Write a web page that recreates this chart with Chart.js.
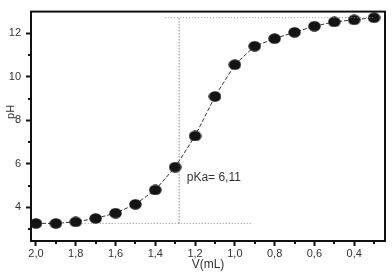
<!DOCTYPE html>
<html><head><meta charset="utf-8">
<script src="https://cdn.jsdelivr.net/npm/chart.js@4.4.1/dist/chart.umd.min.js"></script>
<style>html,body{margin:0;padding:0;background:#fff}canvas{display:block}</style>
</head><body>
<canvas id="c" width="392" height="276"></canvas>
<script>
// ---- data ----
const volume = [2.0, 1.9, 1.8, 1.7, 1.6, 1.5, 1.4, 1.3, 1.2, 1.1, 1.0, 0.9, 0.8, 0.7, 0.6, 0.5, 0.4, 0.3];
const pH     = [3.26, 3.26, 3.33, 3.49, 3.73, 4.14, 4.80, 5.85, 7.28, 9.10, 10.56, 11.41, 11.76, 12.05, 12.33, 12.53, 12.62, 12.72];
const pkaLineX  = [1.28, 1.28];
const pkaLineY  = [3.26, 12.72];
const baseLineX = [1.77, 0.92];
const baseLineY = [3.26, 3.26];
const topLineX  = [1.35, 0.30];
const topLineY  = [12.72, 12.72];
const pkaText = 'pKa= 6,11';
const pkaTextAt = [1.242, 5.34];
const xTicks = [2.0, 1.8, 1.6, 1.4, 1.2, 1.0, 0.8, 0.6, 0.4];
const xMinorTicks = [1.9, 1.7, 1.5, 1.3, 1.1, 0.9, 0.7, 0.5, 0.3];
const yTicks = [4, 6, 8, 10, 12];
const yMinorTicks = [3, 5, 7, 9, 11];
const xTitle = 'V(mL)';
const yTitle = 'pH';

const FONT = 'Liberation Sans, Arial, sans-serif';
const pts = (xs, ys) => xs.map((x, i) => ({x, y: ys[i]}));

// elliptical marker
const dot = document.createElement('canvas');
dot.width = 13; dot.height = 11;
(function(){ const g = dot.getContext('2d'); g.fillStyle = '#141414';
  g.beginPath(); g.ellipse(6.5, 5.5, 6.2, 5.3, 0, 0, Math.PI*2); g.fill(); })();

const decor = {
  id: 'decor',
  beforeDatasetsDraw(chart) {
    const {ctx, chartArea: a, scales: {x, y}} = chart;
    ctx.save();
    ctx.strokeStyle = '#111';
    ctx.lineWidth = 2;
    ctx.strokeRect(a.left, a.top, a.right - a.left, a.bottom - a.top);
    ctx.lineWidth = 2;
    ctx.beginPath();
    xMinorTicks.forEach(v => { const px = Math.round(x.getPixelForValue(v)); ctx.moveTo(px, a.bottom); ctx.lineTo(px, a.bottom + 3); });
    yMinorTicks.forEach(v => { const py = Math.round(y.getPixelForValue(v)); ctx.moveTo(a.left, py); ctx.lineTo(a.left - 3, py); });
    ctx.stroke();
    // y title
    ctx.fillStyle = '#333';
    ctx.font = '11px ' + FONT;
    ctx.textAlign = 'center';
    ctx.textBaseline = 'middle';
    ctx.translate(10.5, a.top + 0.437 * (a.bottom - a.top));
    ctx.rotate(-Math.PI / 2);
    ctx.fillText(yTitle, 0, 0);
    ctx.restore();
  },
  afterDatasetsDraw(chart) {
    const {ctx, scales: {x, y}} = chart;
    ctx.save();
    ctx.fillStyle = '#333';
    ctx.font = '12px ' + FONT;
    ctx.textAlign = 'left';
    ctx.textBaseline = 'middle';
    ctx.fillText(pkaText, x.getPixelForValue(pkaTextAt[0]), y.getPixelForValue(pkaTextAt[1]));
    ctx.restore();
  }
};

const refStyle = {showLine: true, pointRadius: 0, borderWidth: 1, borderDash: [1, 2], fill: false};

new Chart(document.getElementById('c'), {
  type: 'scatter',
  data: {
    datasets: [
      Object.assign({data: pts(pkaLineX, pkaLineY), borderColor: '#555'}, refStyle),
      Object.assign({data: pts(baseLineX, baseLineY), borderColor: '#888'}, refStyle),
      Object.assign({data: pts(topLineX, topLineY), borderColor: '#888'}, refStyle),
      {
        data: pts(volume, pH),
        showLine: true,
        borderColor: '#333',
        borderWidth: 1,
        borderDash: [4, 2],
        pointStyle: dot,
        pointRadius: 6,
        tension: 0
      }
    ]
  },
  options: {
    responsive: false,
    animation: false,
    events: [],
    layout: {padding: {top: 7, right: 7, left: 0, bottom: 0}},
    plugins: {legend: {display: false}, tooltip: {enabled: false}},
    scales: {
      x: {
        type: 'linear',
        reverse: true,
        min: 0.245, max: 2.025,
        afterBuildTicks: s => { s.ticks = xTicks.map(v => ({value: v})); },
        afterFit: s => { s.height = 35; },
        border: {display: false},
        grid: {drawOnChartArea: false, drawTicks: true, tickLength: 5, tickWidth: 2, tickColor: '#111'},
        ticks: {padding: 1, color: '#333', font: {family: FONT, size: 11}, maxRotation: 0,
                callback: v => v.toFixed(1).replace('.', ',')},
        title: {display: true, text: xTitle, color: '#333', font: {family: FONT, size: 12}, padding: {top: 0, bottom: 4}}
      },
      y: {
        type: 'linear',
        min: 2.45, max: 13.0,
        afterBuildTicks: s => { s.ticks = yTicks.map(v => ({value: v})); },
        afterFit: s => { s.width = 31; },
        border: {display: false},
        grid: {drawOnChartArea: false, drawTicks: true, tickLength: 5, tickWidth: 2, tickColor: '#111'},
        ticks: {padding: 5, color: '#333', font: {family: FONT, size: 11}, callback: v => String(v)}
      }
    }
  },
  plugins: [decor]
});
</script>
</body></html>
